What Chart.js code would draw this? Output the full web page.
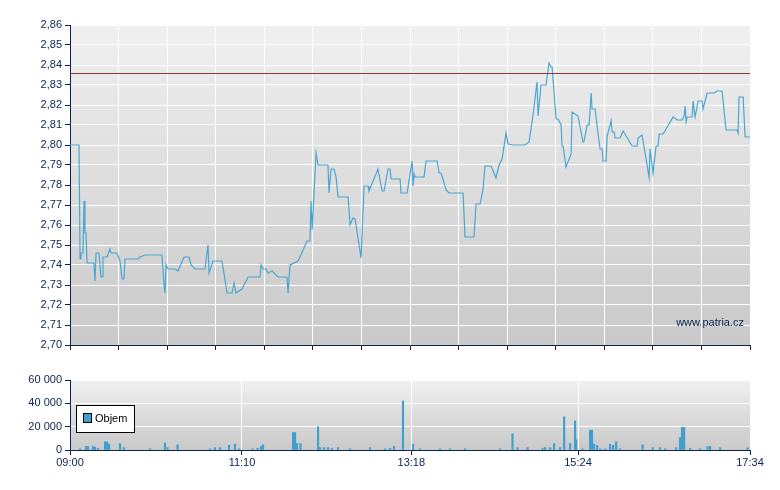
<!DOCTYPE html>
<html><head><meta charset="utf-8">
<script src="https://cdn.jsdelivr.net/npm/chart.js@4"></script>
<style>
html,body{margin:0;padding:0;background:#fff;width:780px;height:490px;overflow:hidden}
#w1{position:absolute;left:0;top:0;width:780px;height:355px}
#w2{position:absolute;left:0;top:360px;width:780px;height:130px}
</style></head><body>
<div id="w1"><canvas id="c1"></canvas></div>
<div id="w2"><canvas id="c2"></canvas></div>
<script>
// minutes since 09:00
const priceTimes = [0,6.8,7.6,8.3,9.8,10.6,11.3,12.1,12.9,18.1,18.9,19.7,21.9,23.4,24.2,24.9,28,30.2,31,35.5,37.8,39.3,40.8,41.6,51.4,52.9,56.7,69.5,71.1,71.8,72.6,74.1,79.4,81.6,86.2,90,91.5,94.5,102,104.3,105.1,105.8,108.1,114.9,118.7,122.5,124,125.5,130,134.6,143.6,144.4,145.9,148.2,149.7,152.7,157.2,164,164.8,166.3,172.4,179.2,181.4,182.2,183,186,187.5,195,195.8,197.3,199.6,201.1,202.6,210.2,211.7,213.9,215.5,220,222.3,225.3,226,232.8,235.9,237.4,240.4,241.9,242.7,249.5,250.2,254.8,258.6,259.3,260.1,260.8,267.6,269.1,277.5,279,280.5,284.3,286.5,297.1,298.6,305.4,306.9,310,312.2,313.7,318.3,322,324.3,326.6,329.6,331.1,334.9,344,347,350,353,353.8,356,359.9,360.6,362.1,363.6,364.4,367.4,368.9,371.2,371.9,372.7,374.9,378.8,379.5,384,387.8,388.6,390.9,392.4,393.9,394.6,396.9,398.4,400.7,402.2,402.9,405.2,406,409,409.8,411.3,412,415.8,418.1,424.9,428.7,429.4,432.4,437.7,438.5,440.7,443,444.5,445.3,448.3,455.9,458.9,462.7,464.2,465,465.7,466.5,470.2,471,472.5,474.8,477.8,478.5,481.6,486.9,489.1,492.9,495.9,504.2,505,505.7,508.8,510.3,514];
const priceValues = [2.80,2.80,2.743,2.746,2.746,2.772,2.756,2.756,2.741,2.741,2.732,2.746,2.746,2.734,2.734,2.744,2.744,2.748,2.746,2.746,2.742,2.733,2.733,2.743,2.743,2.744,2.745,2.745,2.73,2.726,2.740,2.738,2.738,2.737,2.744,2.744,2.740,2.738,2.738,2.75,2.736,2.736,2.742,2.742,2.726,2.726,2.731,2.726,2.728,2.734,2.734,2.74,2.738,2.738,2.736,2.737,2.734,2.734,2.726,2.740,2.742,2.752,2.752,2.772,2.7575,2.796,2.79,2.79,2.776,2.788,2.788,2.784,2.774,2.774,2.76,2.7635,2.763,2.7435,2.7795,2.7795,2.777,2.788,2.777,2.777,2.788,2.788,2.783,2.783,2.776,2.776,2.792,2.7795,2.7855,2.784,2.784,2.792,2.792,2.786,2.786,2.7775,2.776,2.776,2.754,2.754,2.7705,2.7705,2.778,2.7895,2.7895,2.7835,2.79,2.793,2.806,2.8005,2.80,2.80,2.8015,2.815,2.8315,2.8145,2.83,2.83,2.834,2.841,2.839,2.839,2.813,2.813,2.81,2.7995,2.7995,2.789,2.7955,2.8165,2.8145,2.8015,2.802,2.81,2.81,2.826,2.818,2.818,2.8095,2.798,2.798,2.792,2.792,2.8045,2.812,2.8065,2.8065,2.8035,2.8035,2.807,2.7995,2.7995,2.8035,2.805,2.784,2.798,2.786,2.7995,2.7995,2.8055,2.8055,2.814,2.8125,2.8125,2.8145,2.8195,2.8115,2.814,2.814,2.822,2.814,2.822,2.822,2.818,2.826,2.826,2.827,2.827,2.8075,2.8075,2.806,2.824,2.824,2.804,2.804];
const prevClose = 2.836;
const volTimes = [7.6,12.1,13.6,17.4,18.9,21.2,26.5,28,29.5,37.8,40.8,60.5,71.8,73.7,81.3,105.8,109.6,113.4,120.2,124.7,127.8,138,141.8,144.4,145.9,168.6,170.1,171.6,174.2,187.5,189,192,195,198,202.6,211.7,226.8,238.1,241.9,244.9,251.7,259.3,264.6,279.7,287.3,298.6,325.1,334.5,338.3,345.9,357.2,359.1,362.9,365.9,370.4,373.5,378,381.8,382.5,387.4,393.1,394.6,396.1,398.4,400.7,404.5,408.2,410.5,412.8,415.8,432.8,440.4,446,449.8,458.1,461.1,462.6,464.2,468.7,476.3,481.9,483.8,491.4,512.2];
const volValues = [1000,3000,3000,3000,2500,1500,7000,7000,5000,5500,2000,1000,6000,2000,4500,1000,2000,2000,4000,5000,1000,1000,1500,3000,4500,15000,15000,5500,5500,20000,2000,2000,2000,1500,2000,1000,2000,1000,1500,3000,42000,5000,1000,1000,1000,1000,1000,14000,2000,2000,1500,2000,2000,5500,2000,28500,5500,25000,9000,1000,17000,17000,5000,4000,1000,1000,5000,4000,7000,1000,4500,2000,2000,1000,2000,10500,19500,19500,1500,1000,3000,3000,2000,2000];
const timeTickValues = [0,130,258,384,514];
const timeTickLabels = ['09:00','11:10','13:18','15:24','17:34'];
const priceTicks = [2.70,2.71,2.72,2.73,2.74,2.75,2.76,2.77,2.78,2.79,2.80,2.81,2.82,2.83,2.84,2.85,2.86];
const volTicks = [0,20000,40000,60000];

const NAVY='#0b2350', FONT={family:'Liberation Sans, Arial, sans-serif', size:11};
const bg = {id:'bg', beforeDraw(c){const a=c.chartArea, x=c.ctx; const g=x.createLinearGradient(0,a.top,0,a.bottom); g.addColorStop(0,'#f0f0f0'); g.addColorStop(1,'#c9c9c9'); x.save(); x.fillStyle=g; x.fillRect(a.left,a.top,a.right-a.left,a.bottom-a.top); x.restore();}};
const topExtra = {id:'te', afterDatasetsDraw(c){const x=c.ctx,a=c.chartArea,y=c.scales.y.getPixelForValue(prevClose); x.save(); x.strokeStyle='#8a3838'; x.lineWidth=1; x.beginPath(); x.moveTo(a.left,Math.round(y)+0.5); x.lineTo(a.right,Math.round(y)+0.5); x.stroke(); x.restore();},
 afterDraw(c){const x=c.ctx,a=c.chartArea; x.save(); x.fillStyle=NAVY; x.font='11px Liberation Sans, Arial'; x.textAlign='right'; x.textBaseline='middle'; x.fillText('www.patria.cz',a.right-6,a.bottom-22); x.restore();}};
const legendBox = {id:'lb', afterDraw(c){const x=c.ctx; x.save(); x.fillStyle='#fff'; x.fillRect(76,45,59,28); x.strokeStyle='#000'; x.lineWidth=1; x.strokeRect(76.5,45.5,58,27); x.fillStyle='#3fa0d0'; x.fillRect(84,54,7,8); x.strokeStyle='#000'; x.strokeRect(83.5,53.5,8,9); x.fillStyle='#000'; x.font='11px Liberation Sans, Arial'; x.textBaseline='middle'; x.fillText('Objem',95,59); x.restore();}};

const gridTop = []; for(let i=0;i<=14;i++) gridTop.push({value:514*i/14});

new Chart(document.getElementById('c1'),{type:'line',
 data:{datasets:[{data:priceTimes.map((t,i)=>({x:t,y:priceValues[i]})),borderColor:'#4aa6d2',borderWidth:1.2,pointRadius:0,tension:0}]},
 options:{responsive:true,maintainAspectRatio:false,animation:false,layout:{padding:{top:25,right:30,left:0,bottom:0}},
  plugins:{legend:{display:false},tooltip:{enabled:false}},
  scales:{x:{type:'linear',min:0,max:514,afterBuildTicks(s){s.ticks=gridTop.map(o=>({value:o.value}));},
     ticks:{callback:()=>'',font:FONT},grid:{color:'#fff',tickColor:NAVY,tickLength:5,drawTicks:true},border:{color:NAVY},afterFit(s){s.height=10;}},
   y:{min:2.70,max:2.86,afterBuildTicks(s){s.ticks=priceTicks.map(v=>({value:v}));},
     ticks:{color:NAVY,font:FONT,padding:3,callback:v=>v.toFixed(2).replace('.',',')},
     grid:{color:'#fff',tickColor:NAVY,tickLength:5},border:{color:NAVY},afterFit(s){s.width=70;}}}},
 plugins:[bg,topExtra]});

new Chart(document.getElementById('c2'),{type:'bar',
 data:{datasets:[{data:volTimes.map((t,i)=>({x:t,y:volValues[i]})),backgroundColor:'#3fa0d0',barThickness:1.5,borderWidth:0}]},
 options:{responsive:true,maintainAspectRatio:false,animation:false,layout:{padding:{top:20,right:30,left:0,bottom:0}},
  plugins:{legend:{display:false},tooltip:{enabled:false}},
  scales:{x:{type:'linear',min:0,max:514,offset:false,afterBuildTicks(s){s.ticks=timeTickValues.map(v=>({value:v}));},
     ticks:{color:NAVY,font:FONT,maxRotation:0,autoSkip:false,padding:1,callback:v=>timeTickLabels[timeTickValues.indexOf(v)]},
     grid:{color:'#fff',tickColor:NAVY,tickLength:5,offset:false},border:{color:NAVY},afterFit(s){s.height=40;}},
   y:{min:0,max:60000,afterBuildTicks(s){s.ticks=volTicks.map(v=>({value:v}));},
     ticks:{color:NAVY,font:FONT,padding:3,callback:v=>v===0?'0':String(v).replace(/\B(?=(\d{3})+(?!\d))/g,' ')},
     grid:{color:'#fff',tickColor:NAVY,tickLength:5},border:{color:NAVY},afterFit(s){s.width=70;}}}},
 plugins:[bg,legendBox]});
</script></body></html>
